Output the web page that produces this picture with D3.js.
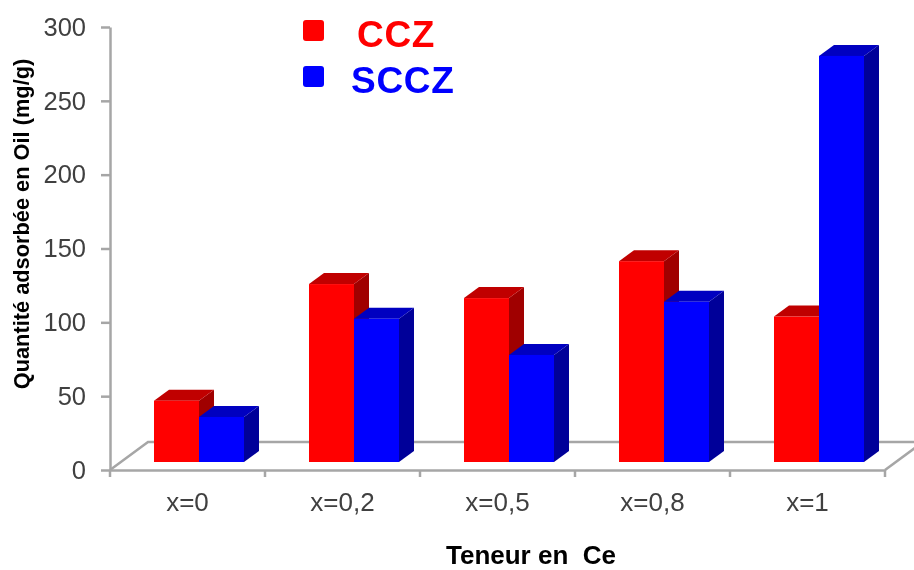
<!DOCTYPE html>
<html>
<head>
<meta charset="utf-8">
<script src="https://cdn.jsdelivr.net/npm/d3@7/dist/d3.min.js"></script>
<style>
html, body { margin: 0; padding: 0; background: #fff; overflow: hidden; }
svg { display: block; filter: blur(0.6px); font-family: "Liberation Sans", Arial, sans-serif; }
</style>
</head>
<body>
<svg id="chart" width="914" height="570"></svg>
<script>
// values
var categories = ['x=0', 'x=0,2', 'x=0,5', 'x=0,8', 'x=1']
var ccz = [41.5, 120.5, 111, 136, 98.5]
var sccz = [30.5, 97, 72.5, 108.5, 275]
var seriesNames = ['CCZ', 'SCCZ']
var yTicks = [0, 50, 100, 150, 200, 250, 300]

var frontColor = ['#ff0000', '#0000ff'], topColor = ['#c00000', '#0000c0'], sideColor = ['#a00000', '#000099']
var axisColor = '#a6a6a6', textColor = '#404040'
var left = 110, right = 885, top0 = 27, bottom = 470
var floorDx = 38, floorDy = 28, baseLift = 8, depthX = 15, depthY = 11

var svg = d3.select('#chart')

var y = d3.scaleLinear().domain([0, 300]).range([bottom, top0])
var x = d3.scaleBand().domain(categories).range([left, right])
var inner = d3.scaleBand().domain(d3.range(seriesNames.length)).range([44, 44 + 90])

// floor of the 3d box
svg.append('path')
    .attr('d', `M${left} ${bottom} L${left + floorDx} ${bottom - floorDy} L${right + floorDx} ${bottom - floorDy}`)
    .attr('fill', 'none').attr('stroke', axisColor).attr('stroke-width', 2.5)
svg.append('line')
    .attr('x1', right).attr('y1', bottom)
    .attr('x2', right + floorDx).attr('y2', bottom - floorDy)
    .attr('stroke', axisColor).attr('stroke-width', 2.5)

// y axis
var gY = svg.append('g')
    .attr('transform', `translate(${left},0)`)
    .call(d3.axisLeft(y).tickValues(yTicks).tickSize(9).tickSizeOuter(0).tickPadding(15))
gY.selectAll('path, line').attr('stroke', axisColor).attr('stroke-width', 2.5)
gY.selectAll('text').attr('fill', textColor).attr('font-size', 25.5).attr('font-family', 'inherit')

// x axis, labels centred, ticks on band edges
var gX = svg.append('g')
    .attr('transform', `translate(0,${bottom})`)
    .call(d3.axisBottom(x).tickSize(0).tickPadding(22.5))
gX.select('.domain').attr('stroke', axisColor).attr('stroke-width', 2.5)
gX.selectAll('text').attr('fill', textColor).attr('font-size', 26).attr('font-family', 'inherit')
gX.selectAll('.edge')
    .data(categories.map(function (d) { return x(d) }).concat([right]))
    .join('line')
    .attr('class', 'edge')
    .attr('x1', function (d) { return d }).attr('x2', function (d) { return d })
    .attr('y1', 0).attr('y2', 7)
    .attr('stroke', axisColor).attr('stroke-width', 2.5)

// bars, red first so blue sits over its side
var bars = []
categories.forEach(function (c, i) {
    bars.push({ cat: c, s: 0, v: ccz[i] })
    bars.push({ cat: c, s: 1, v: sccz[i] })
})
var barG = svg.selectAll('.bar').data(bars).join('g').attr('class', 'bar')

function bx(d) { return x(d.cat) + inner(d.s) }
function bTop(d) { return y(d.v) - baseLift }
var bw = inner.bandwidth(), bBase = y(0) - baseLift

barG.append('path') // side
    .attr('fill', function (d) { return sideColor[d.s] })
    .attr('d', function (d) {
        var r = bx(d) + bw
        return `M${r} ${bTop(d)} L${r + depthX} ${bTop(d) - depthY} L${r + depthX} ${bBase - depthY} L${r} ${bBase} Z`
    })
barG.append('path') // top
    .attr('fill', function (d) { return topColor[d.s] })
    .attr('d', function (d) {
        var l = bx(d)
        return `M${l} ${bTop(d)} L${l + depthX} ${bTop(d) - depthY} L${l + bw + depthX} ${bTop(d) - depthY} L${l + bw} ${bTop(d)} Z`
    })
barG.append('rect') // front
    .attr('fill', function (d) { return frontColor[d.s] })
    .attr('x', bx).attr('y', bTop)
    .attr('width', bw)
    .attr('height', function (d) { return bBase - bTop(d) })

// legend
var legendY = d3.scaleBand().domain(seriesNames).range([9, 101])
var legend = svg.selectAll('.legend').data(seriesNames).join('g').attr('class', 'legend')
legend.append('rect')
    .attr('x', 303).attr('y', function (d) { return legendY(d) + 11 })
    .attr('width', 21).attr('height', 21).attr('rx', 3)
    .attr('fill', function (d, i) { return frontColor[i] })
legend.append('text')
    .attr('x', function (d, i) { return i == 0 ? 357 : 351 })
    .attr('y', function (d) { return legendY(d) + 38 })
    .attr('font-size', 37).attr('font-weight', 'bold')
    .attr('letter-spacing', 0.7)
    .attr('fill', function (d, i) { return frontColor[i] })
    .text(function (d) { return d })

// axis titles
svg.append('text')
    .attr('transform', 'translate(29,224) rotate(-90)')
    .attr('text-anchor', 'middle')
    .attr('font-size', 21.8).attr('font-weight', 'bold').attr('fill', '#000')
    .text('Quantité adsorbée en Oil (mg/g)')
svg.append('text')
    .attr('x', 531).attr('y', 564)
    .attr('text-anchor', 'middle')
    .attr('font-size', 26).attr('font-weight', 'bold').attr('fill', '#000')
    .style('white-space', 'pre')
    .text('Teneur en  Ce')
</script>
</body>
</html>
